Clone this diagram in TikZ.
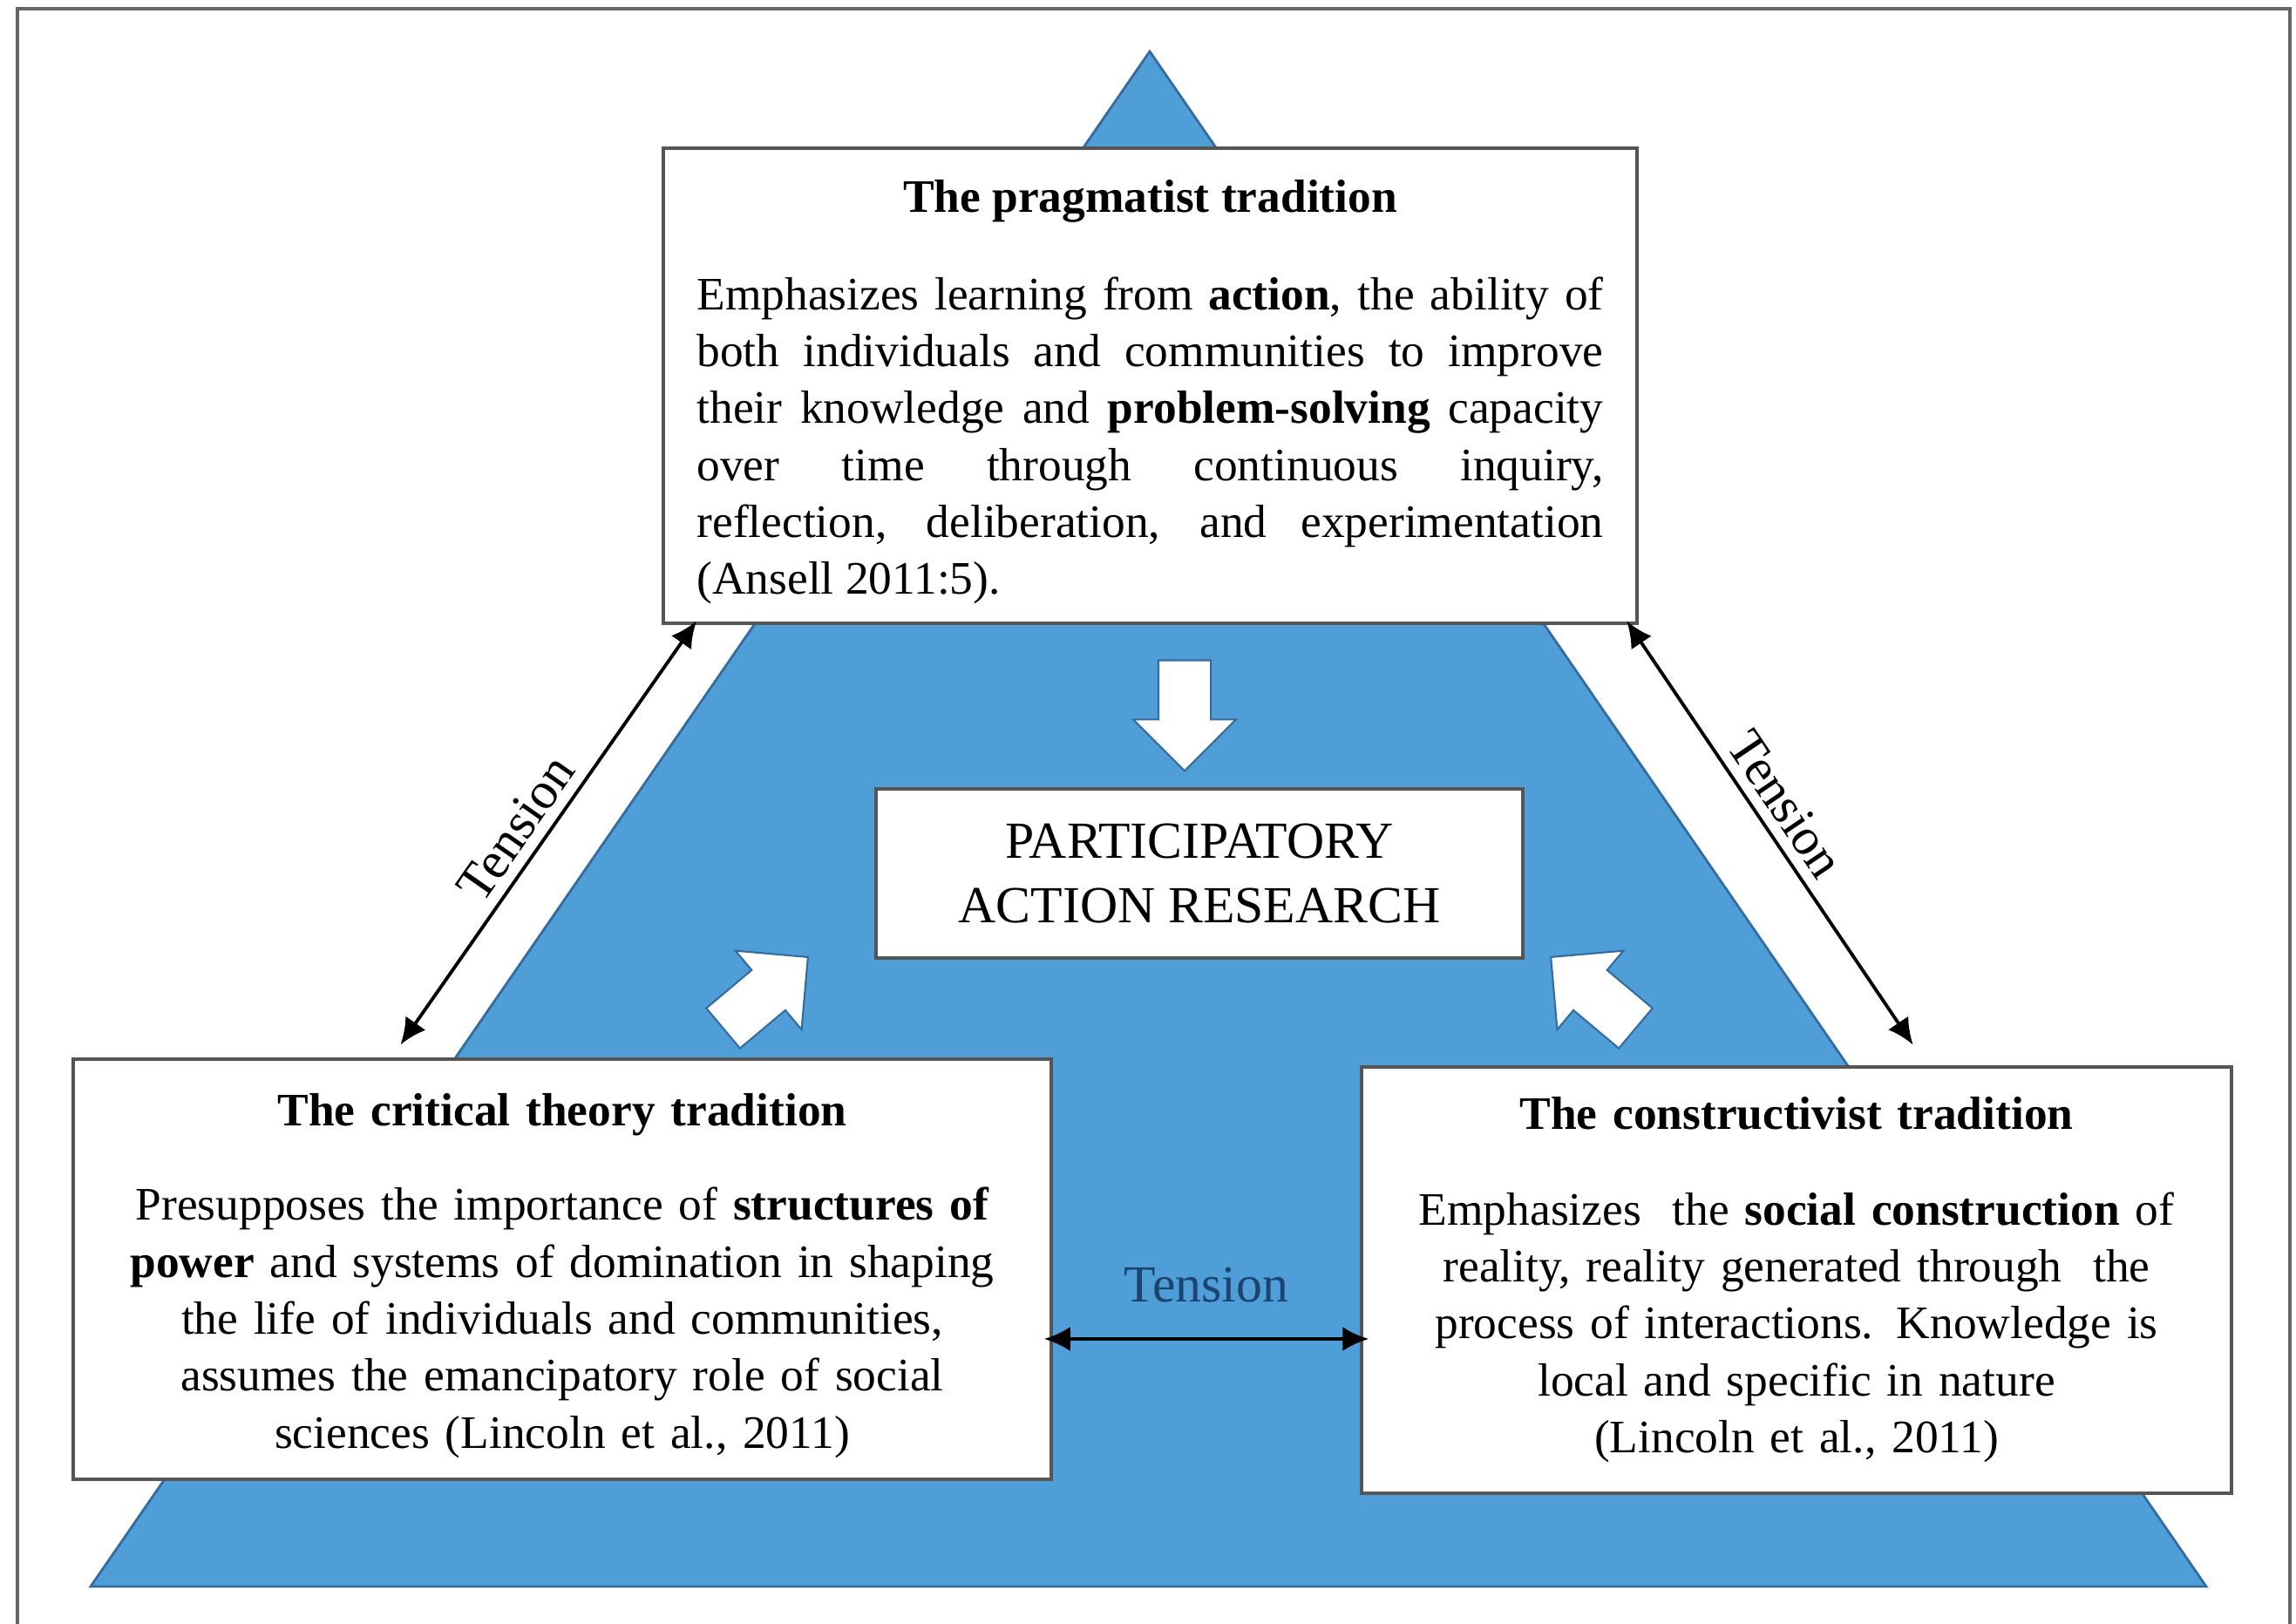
\documentclass[tikz,border=0pt]{standalone}
\usepackage{fontspec}
\setmainfont{Liberation Serif}
\usetikzlibrary{positioning,arrows.meta,shapes.arrows}

\definecolor{pyramid}{RGB}{79,158,215}
\definecolor{pyramidline}{RGB}{52,108,160}
\definecolor{boxline}{RGB}{85,85,85}
\definecolor{tensionblue}{RGB}{28,68,112}

\tikzset{
	tradition/.style={draw=boxline, line width=1pt, fill=white, inner sep=0pt,
		execute at begin node={\setlength{\parindent}{0pt}},
		font=\fontsize{15.2pt}{18.6pt}\selectfont},
	parbox/.style={draw=boxline, line width=1pt, fill=white, inner sep=0pt, align=center,
		font=\fontsize{17pt}{20.8pt}\selectfont},
	flow/.style={single arrow, draw=pyramidline, fill=white, line width=0.6pt,
		inner xsep=0pt, inner ysep=0.29cm, anchor=tip,
		minimum height=1.27cm, minimum width=1.16cm, single arrow head extend=0.29cm},
	tensionline/.style={{Latex[length=0.3cm,width=0.28cm]}-{Latex[length=0.3cm,width=0.28cm]},
		line width=1.1pt, shorten <=-0.1cm, shorten >=-0.1cm},
	tensionlabel/.style={font=\fontsize{17pt}{20pt}\selectfont}
}

\begin{document}
\begin{tikzpicture}
	\useasboundingbox (0,0) rectangle (26.34,18.63);
	% frame
	\draw [black!60, line width=1.2pt] (0.20,0) -- (0.20,18.53) -- (26.27,18.53) -- (26.27,0);
	% pyramid
	\draw [fill=pyramid, draw=pyramidline, line width=0.8pt] (1.04,0.43) -- (13.19,18.04) -- (25.31,0.43) -- cycle;

	\node [tradition, align=justify, text width=10.40cm, minimum width=11.17cm, minimum height=5.45cm] (prag) at (13.195,14.205) {%
		{\centering\rule{0pt}{0.52cm}\textbf{The pragmatist tradition}\par}
		\vspace{0.46cm}
		Emphasizes learning from \textbf{action}, the ability of\linebreak
		both individuals and communities to improve\linebreak
		their knowledge and \textbf{problem-solving} capacity\linebreak
		over time through continuous inquiry,\linebreak
		reflection, deliberation, and experimentation\linebreak
		(Ansell 2011:5).};
	\node [parbox, minimum width=7.42cm, minimum height=1.94cm] (par) at (13.76,8.61) {PARTICIPATORY\\ACTION RESEARCH};
	\node [tradition, align=center, text width=10.6cm, minimum width=11.22cm, minimum height=4.82cm] (crit) at (6.45,4.07) {%
		\rule{0pt}{0.52cm}\textbf{The critical theory tradition}\\[0.43cm]
		Presupposes the importance of \textbf{structures of}\\
		\textbf{power} and systems of domination in shaping\\
		the life of individuals and communities,\\
		assumes the emancipatory role of social\\
		sciences (Lincoln et al., 2011)};
	\node [tradition, align=center, text width=9.4cm, minimum width=9.98cm, minimum height=4.89cm] (cons) at (20.61,3.945) {%
		\textbf{The constructivist tradition}\\[0.44cm]
		Emphasizes \ the \textbf{social construction} of\\
		reality, reality generated through \ the\\
		process of interactions. Knowledge is\\
		local and specific in nature\\
		(Lincoln et al., 2011)};

	% block arrows into PAR
	\node [flow, rotate=-90] (fromprag) at (13.59,9.77) {};
	\node [flow, rotate=40] (fromcrit) at (9.28,7.66) {};
	\node [flow, rotate=140] (fromcons) at (17.78,7.66) {};

	% tensions
	\draw [tensionline] ([shift={(3.83,0.23)}]crit.north west) -- node [pos=0.47, sloped, above, tensionlabel] {Tension} ([shift={(0.34,-0.04)}]prag.south west);
	\draw [tensionline] ([shift={(-0.08,-0.04)}]prag.south east) -- node [pos=0.47, sloped, above, tensionlabel] {Tension} ([shift={(1.28,0.32)}]cons.north);
	\draw [tensionline] ([yshift=-0.8cm]crit.east) -- node [midway, yshift=0.62cm, tensionlabel, text=tensionblue] {Tension} ([yshift=-0.8cm]crit.east -| cons.west);
\end{tikzpicture}
\end{document}
